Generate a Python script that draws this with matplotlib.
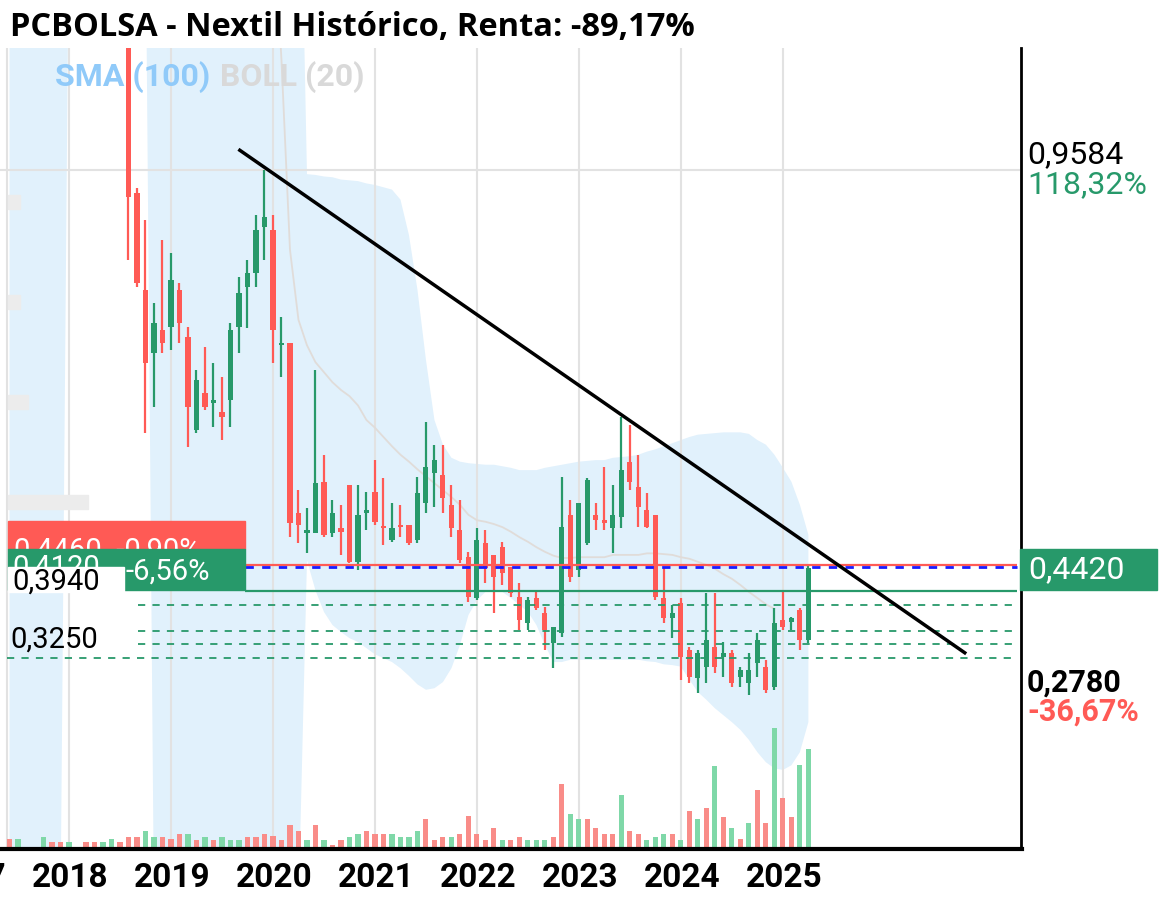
import numpy as np
import matplotlib
matplotlib.use("Agg")
import matplotlib.pyplot as plt
from matplotlib.patches import Rectangle

# ---- data (monthly, index 0 = Jun 2017) ----
vol_start = "2017-06"
volume = [15, 15, 0, 0, 18, 10, 10, 10, 0, 10, 10, 10, 15, 10, 18, 18, 28, 18, 18, 15,
          23, 23, 13, 18, 13, 18, 13, 13, 18, 18, 23, 20, 13, 37, 28, 13, 37, 13, 5, 13,
          18, 23, 28, 23, 23, 23, 18, 18, 28, 47, 13, 18, 18, 23, 52, 23, 13, 32, 13, 13,
          18, 13, 13, 13, 18, 103, 55, 47, 47, 32, 23, 23, 85, 28, 23, 13, 18, 23, 23, 13,
          60, 47, 65, 132, 50, 32, 15, 40, 93, 40, 193, 80, 50, 133, 160]
vol_dir = ("rg__grrggrrggrrrggrrrgrgrgggrrrrrrrgrgrrgg"
           "rrrggggrrrgrrrrrgrrgggrrggrrrrgrrgggrgrgr"
           "grg")
vol_dir = vol_dir[:len(volume)]

# candles Aug 2018 .. Apr 2025 (index 14..94)
candle_start = 14
opens = [1.20, .929, .803, .721, .751, .755, .803, .742, .621, .669, .656, .644, .660, .755,
         .807, .825, .885, .881, .731, .734, .513, .487, .487, .554, .487, .494, .550, .450,
         .513, .541, .495, .478, .498, .498, .478, .526, .565, .563, .524, .491, .456, .403,
         .474, .459, .469, .443, .404, .371, .403, .384, .345, .358, .511, .439, .474, .511,
         .504, .494, .508, .580, .547, .517, .511, .403, .377, .397, .336, .299, .314, .340,
         .327, .332, .301, .293, .319, .314, .288, .375, .372, .388, .349]
highs = [1.25, .935, .893, .786, .868, .851, .812, .755, .699, .729, .708, .690, .760, .820,
         .842, .900, .958, .900, .768, .734, .543, .520, .699, .589, .530, .524, .550, .550,
         .541, .582, .559, .526, .524, .498, .560, .631, .602, .602, .550, .530, .463, .494,
         .491, .459, .476, .443, .423, .404, .411, .391, .365, .560, .530, .526, .559, .526,
         .573, .550, .638, .628, .589, .539, .511, .442, .394, .403, .340, .336, .410, .410,
         .346, .336, .314, .332, .358, .323, .390, .413, .378, .390, .446]
lows = [.842, .807, .617, .651, .721, .725, .734, .599, .617, .647, .625, .608, .625, .721,
        .753, .807, .842, .708, .690, .482, .474, .461, .487, .482, .482, .459, .448, .439,
        .491, .498, .472, .476, .482, .472, .474, .513, .521, .513, .482, .448, .398, .401,
        .423, .384, .420, .404, .362, .362, .388, .336, .312, .353, .424, .430, .472, .491,
        .491, .461, .494, .543, .495, .494, .401, .371, .351, .297, .293, .280, .293, .306,
        .301, .288, .288, .277, .301, .280, .284, .362, .362, .336, .345]
closes = [.923, .812, .708, .760, .734, .816, .760, .651, .686, .651, .660, .638, .751, .799,
          .825, .881, .897, .751, .734, .500, .498, .491, .552, .485, .513, .489, .450, .511,
          .517, .502, .494, .494, .495, .474, .539, .573, .582, .533, .494, .452, .404, .478,
          .442, .430, .436, .410, .375, .401, .390, .362, .365, .495, .430, .526, .556, .504,
          .500, .511, .569, .554, .521, .495, .404, .377, .384, .327, .301, .332, .349, .314,
          .332, .293, .310, .310, .349, .284, .371, .365, .377, .349, .442]

# bollinger band (20), index 35..94 ; earlier parts are off-scale
band_start = 35
band_upper = [.953, .952, .950, .949, .946, .945, .944, .941, .939, .936, .933, .920, .874, .803,
              .712, .634, .602, .585, .580, .578, .577, .576, .576, .574, .572, .569, .569, .569,
              .572, .574, .576, .578, .580, .581, .582, .582, .585, .586, .587, .589, .593, .596,
              .600, .604, .608, .612, .615, .616, .617, .618, .618, .618, .616, .608, .602, .589,
              .572, .554, .524, .485]
band_lower = [.452, .413, .385, .368, .359, .351, .346, .338, .330, .325, .320, .312, .302, .291,
              .284, .286, .294, .312, .342, .381, .400, .411, .413, .411, .403, .394, .385, .368,
              .342, .320, .320, .323, .323, .323, .323, .323, .323, .323, .323, .323, .321, .320,
              .317, .316, .314, .297, .281, .271, .260, .251, .242, .232, .219, .203, .190, .182,
              .180, .186, .203, .242]

# SMA (100), index 31..90
sma_start = 31
sma = [1.30, 1.101, .855, .764, .731, .709, .696, .683, .673, .665, .653, .634, .624, .612,
       .600, .589, .580, .570, .561, .552, .543, .534, .524, .511, .504, .502, .499, .495,
       .489, .482, .476, .469, .463, .458, .455, .455, .456, .456, .456, .456, .459, .459,
       .459, .459, .461, .461, .460, .459, .456, .454, .450, .446, .441, .434, .428, .420,
       .411, .403, .395, .389]

years = list(range(2018, 2026))
last_price = 0.4420
max_price = 0.9584
min_price = 0.2780
title = "PCBOLSA - Nextil Histórico, Renta: -89,17%"

RED = "#ff5a55"
GREEN = "#27996a"
VRED = "#f98c88"
VGREEN = "#7fd8a8"
BAND = "#e1f1fc"

W, H = 1175, 908
fig = plt.figure(figsize=(W / 100, H / 100), dpi=100)
fig.patch.set_facecolor("white")


def fx(px):
    return px / W


def fy(py):
    return 1 - py / H


ax = fig.add_axes([0, fy(848), fx(1020), fy(48) - fy(848)])
ax.set_xlim(-1.12, 118.9)
ax.set_ylim(0.0787, 1.1167)
for s in ax.spines.values():
    s.set_visible(False)
ax.set_xticks([])
ax.set_yticks([])
ax.patch.set_alpha(0)

# band: full-height stretches where the band runs off scale
idx_all = np.arange(0, band_start + len(band_upper))
up = np.full(len(idx_all), 1.5)
lo = np.full(len(idx_all), 0.0)
lo[7:17] = 1.3
up[band_start:] = band_upper
lo[band_start:] = band_lower
ax.fill_between(idx_all, lo, up, color=BAND, lw=0, zorder=0)

# grid
for i, yr in enumerate(years):
    ax.axvline(7 + 12 * i, color="#e2e2e2", lw=1.5, zorder=1)
ax.axhline(max_price, color="#e2e2e2", lw=1.5, zorder=1)
ax.axvline(-0.3, color="#e2e2e2", lw=1.5, zorder=1)

# sma
ax.plot(np.arange(sma_start, sma_start + len(sma)), sma, color="#e0dcd9", lw=1.3, zorder=2)

# volume
vax = ax.twinx()
vax.set_ylim(0, 800 * 193 / 120)
vax.set_xlim(ax.get_xlim())
vax.axis("off")
vcols = [VGREEN if d == "g" else VRED for d in vol_dir]
vax.bar(np.arange(len(volume)), volume, width=0.6, color=vcols, zorder=2)

# candles
ci = np.arange(candle_start, candle_start + len(closes))
for x, o, h, l, c in zip(ci, opens, highs, lows, closes):
    col = GREEN if c >= o else RED
    ax.vlines(x, l, h, color=col, lw=1.6, zorder=4)
    ax.bar(x, max(abs(c - o), 0.003), bottom=min(o, c), width=0.6, color=col, zorder=4)

# levels
x_lab = 27.7
ax.hlines(0.4460, x_lab, 118.6, color=RED, lw=1.6, zorder=5)
ax.hlines(0.4436, x_lab, 118.6, color="#1a1aff", lw=2, ls=(0, (3, 3)), zorder=5)
ax.hlines(0.4120, x_lab, 118.6, color=GREEN, lw=1.6, zorder=5)
for lev in (0.3940, 0.3600, 0.3430):
    ax.hlines(lev, 15.1, 118.6, color=GREEN, lw=1.3, ls=(0, (4, 4)), zorder=5)
ax.hlines(0.3250, -0.3, 118.6, color=GREEN, lw=1.3, ls=(0, (4, 4)), zorder=5)

# trendline
ax.plot([27.1, 112.4], [0.984, 0.332], color="black", lw=2.5, zorder=6)


# figure-level boxes and text
def box(x0, y0, x1, y1, color, z=10):
    fig.patches.append(Rectangle((fx(x0), fy(y1)), fx(x1 - x0), fy(y0) - fy(y1),
                                 transform=fig.transFigure, color=color, zorder=z))


fnt = "Roboto"
LS = 21
box(8, 521, 245, 549, RED, 9)
fig.text(fx(14), fy(551), "0,4460  -0,90%", color="white", fontsize=LS, family=fnt,
         va="center", zorder=9.5)
box(8, 549, 245, 590, GREEN, 10)
fig.text(fx(12), fy(568), "0,4120", color="white", fontsize=LS, family=fnt, va="center",
         zorder=11)
fig.text(fx(126), fy(572), "-6,56%", color="white", fontsize=LS, family=fnt, va="center",
         zorder=13)
box(8, 567, 124, 592, "white", 12)
fig.text(fx(12), fy(582), "0,3940", color="black", fontsize=LS, family=fnt, va="center",
         zorder=13)
fig.text(fx(10), fy(640), "0,3250", color="black", fontsize=LS, family=fnt, va="center",
         zorder=13)

for yy, ww in ((202, 12), (302, 12), (402, 20), (502, 80)):
    box(8, yy - 7, 8 + ww, yy + 7, "#ececec")

# axes frame
fig.add_artist(plt.Line2D([fx(1021), fx(1021)], [fy(48), fy(849)], color="black", lw=2,
                          transform=fig.transFigure))
fig.add_artist(plt.Line2D([0, fx(1022)], [fy(849), fy(849)], color="black", lw=3,
                          transform=fig.transFigure))

# right labels
RS = 23
fig.text(fx(1027), fy(155), "0,9584", fontsize=RS, family=fnt, va="center")
fig.text(fx(1027), fy(185), "118,32%", fontsize=RS, family=fnt, va="center", color=GREEN)
box(1020, 549, 1157, 590, GREEN)
fig.text(fx(1028), fy(570), "0,4420", fontsize=RS, family=fnt, va="center", color="white",
         zorder=11)
fig.text(fx(1027), fy(683), "0,2780", fontsize=RS - 1, family=fnt, va="center", weight="bold")
fig.text(fx(1027), fy(712), "-36,67%", fontsize=RS - 1, family=fnt, va="center", weight="bold",
         color=RED)

# year labels
for i, yr in enumerate([2017] + years):
    px = 70 + (i - 1) * 102
    fig.text(fx(px), fy(878), str(yr), fontsize=24, family=fnt, weight="bold",
             ha="center", va="center")

# title and legend
fig.text(fx(10), fy(28), title, fontsize=23.5, family="Open Sans", weight="bold", va="center")
fig.text(fx(55), fy(77), "SMA (100)", fontsize=23, family=fnt, weight="bold", va="center",
         color="#90caf9")
fig.text(fx(220), fy(77), "BOLL (20)", fontsize=23, family=fnt, weight="bold", va="center",
         color="#d9d9d9")

fig.savefig("out.png", dpi=100)
